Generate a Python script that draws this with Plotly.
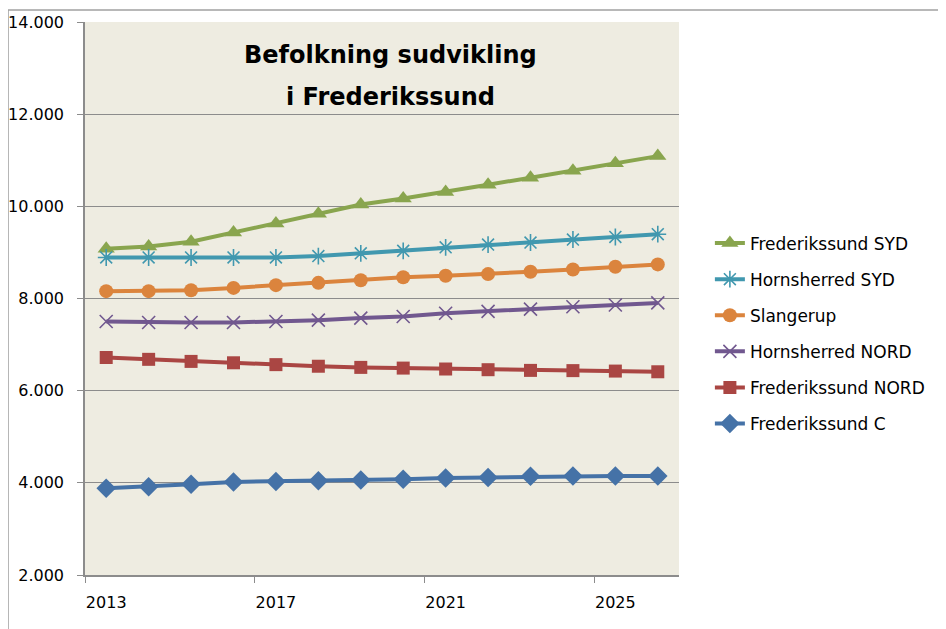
import plotly.graph_objects as go

# Befolkningsprognose pr. område, 2013-2026
years = list(range(2013, 2027))

fr_syd = [9080, 9130, 9230, 9430, 9630, 9840, 10040, 10170, 10310, 10470, 10620, 10770, 10935, 11090]
horn_syd = [8890, 8890, 8890, 8890, 8890, 8920, 8980, 9035, 9110, 9170, 9215, 9280, 9335, 9395]
slangerup = [8160, 8160, 8180, 8230, 8290, 8340, 8395, 8460, 8495, 8530, 8580, 8630, 8690, 8740]
horn_nord = [7500, 7480, 7480, 7480, 7500, 7530, 7575, 7610, 7680, 7720, 7770, 7820, 7860, 7905]
fr_nord = [6720, 6680, 6635, 6605, 6565, 6530, 6505, 6490, 6470, 6455, 6440, 6435, 6425, 6410]
fr_c = [3880, 3915, 3970, 4020, 4030, 4045, 4060, 4080, 4105, 4115, 4145, 4150, 4150, 4150]

names = ["Frederikssund SYD", "Hornsherred SYD", "Slangerup",
         "Hornsherred NORD", "Frederikssund NORD", "Frederikssund C"]
series = [fr_syd, horn_syd, slangerup, horn_nord, fr_nord, fr_c]
colors = ["#89A54E", "#4198AF", "#DB843D", "#71588F", "#AA4643", "#4572A7"]
symbols = ["triangle-up", "asterisk-open", "circle", "x-thin-open", "square", "diamond"]
sizes = [15, 14, 14, 13, 13, 15]

GRID = "#8C8C8C"
FONT = "DejaVu Sans"

fig = go.Figure()
for name, vals, col, sym, sz in zip(names, series, colors, symbols, sizes):
    open_sym = sym.endswith("open")
    fig.add_trace(go.Scatter(
        x=years, y=vals, name=name, mode="lines+markers",
        legendgroup=name,
        line=dict(color=col, width=4),
        marker=dict(symbol=sym, size=sz, color=col,
                    line=dict(color=col, width=1.6 if open_sym else 0)),
        hoverinfo="skip",
    ))

# Ramme rundt om diagrammet
fig.add_shape(type="line", xref="paper", yref="paper",
              x0=-0.1296, x1=1.46, y0=1.0217, y1=1.0217,
              line=dict(color="#A0A0A0", width=1.5))
fig.add_shape(type="line", xref="paper", yref="paper",
              x0=-0.1296, x1=-0.1296, y0=1.0217, y1=-0.12,
              line=dict(color="#A0A0A0", width=1.5))

# Titel
fig.add_annotation(text="<b>Befolkning sudvikling</b>", xref="paper", yref="paper",
                   x=0.5135, y=0.94, yanchor="middle", showarrow=False,
                   font=dict(family=FONT, size=24, color="black"))
fig.add_annotation(text="<b>i Frederikssund</b>", xref="paper", yref="paper",
                   x=0.5135, y=0.864, yanchor="middle", showarrow=False,
                   font=dict(family=FONT, size=24, color="black"))

# siden har 8px margin, så figuren er lidt mindre end vinduet
fig.update_layout(
    width=938, height=621,
    margin=dict(l=77, r=267, t=14, b=54),
    paper_bgcolor="white",
    plot_bgcolor="#EEECE1",
    separators=",.",
    font=dict(family=FONT, size=16, color="black"),
    showlegend=True,
    legend=dict(x=1.052, xanchor="left", y=0.632, yanchor="top",
                font=dict(family=FONT, size=17, color="black"),
                bgcolor="rgba(0,0,0,0)", tracegroupgap=11,
                itemwidth=30),
    xaxis=dict(
        range=[2012.5, 2026.5], automargin=False,
        tickmode="array", tickvals=[2013, 2017, 2021, 2025],
        ticks="", showgrid=False, zeroline=False,
        showline=True, linecolor=GRID, linewidth=1.5,
        ticklabelstandoff=12,
        minor=dict(ticks="outside", tick0=2012.5, dtick=4, ticklen=6,
                   tickcolor=GRID, showgrid=False),
    ),
    yaxis=dict(
        range=[2000, 14000], dtick=2000, tickformat=",d", automargin=False,
        showgrid=True, gridcolor=GRID, gridwidth=1,
        zeroline=False, showline=True, linecolor=GRID, linewidth=1.5,
        ticks="outside", ticklen=6, tickcolor=GRID,
        ticklabelstandoff=10,
    ),
)

fig.write_html("out.html")
